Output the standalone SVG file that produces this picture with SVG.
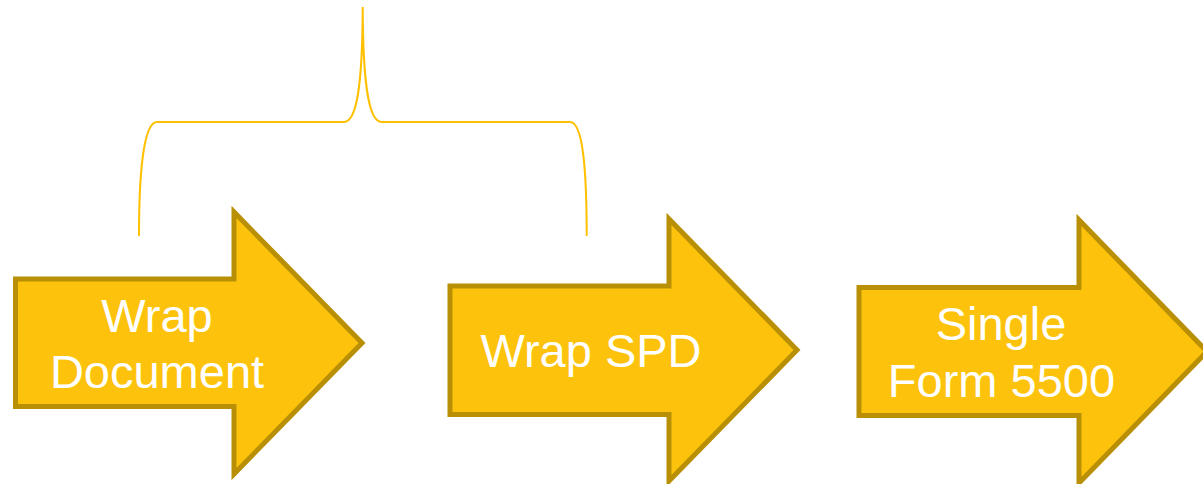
<svg xmlns="http://www.w3.org/2000/svg" width="1203" height="484" viewBox="0 0 1203 484">
<style>
.arrow{fill:#FDC30C;stroke:#B98F05;stroke-width:5;stroke-linejoin:miter}
.lbl{font-family:"Liberation Sans",Arial,sans-serif;font-size:47px;fill:#FFFFFF;text-anchor:middle}
.brace{fill:none;stroke:#FFC000;stroke-width:2}
</style>
<rect width="1203" height="484" fill="#FFFFFF"/>
<g id="connectors">
<path class="brace" d="M139,236 C139,170 144,122 157,122 L344,122 C356,122 362.5,90 362.7,7 C363,90 369.5,122 381.7,122 L570,122 C583,122 586.7,170 586.7,236"/>
</g>
<g id="node-wrap-document">
<path class="arrow" d="M15.5,279 L234,279 L234,212 L362,343 L234,474 L234,406.5 L15.5,406.5 Z"/>
<text class="lbl" x="157" y="331.5">Wrap</text>
<text class="lbl" x="157" y="388.3">Document</text>
</g>
<g id="node-wrap-spd">
<path class="arrow" d="M450,286 L669,286 L669,219 L797,350 L669,481 L669,414.5 L450,414.5 Z"/>
<text class="lbl" x="591" y="366.7">Wrap SPD</text>
</g>
<g id="node-single-form">
<path class="arrow" d="M859,287.5 L1079,287.5 L1079,220 L1207,351.5 L1079,483 L1079,415.5 L859,415.5 Z"/>
<text class="lbl" x="1001" y="340">Single</text>
<text class="lbl" x="1001.5" y="396.7">Form 5500</text>
</g>
</svg>
